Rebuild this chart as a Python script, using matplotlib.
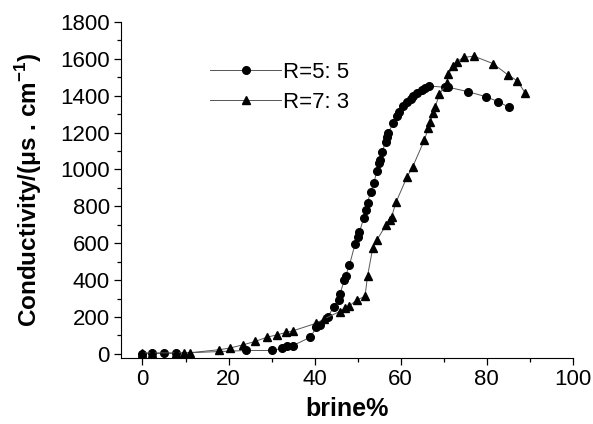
import matplotlib
matplotlib.use('Agg')
import matplotlib.pyplot as plt
from matplotlib.ticker import MultipleLocator

# R=5:5 series (circles)
brine_55 = [0, 2.3, 4.9, 7.8, 24.1, 30.1, 32.5, 33.6, 35.0, 39.0, 40.4, 41.3, 43.1,
            44.4, 45.6, 45.9, 46.9, 47.2, 48.1, 49.4, 50.0, 50.4, 51.4, 51.9, 52.3,
            53.0, 53.8, 54.4, 54.9, 55.2, 55.7, 56.5, 56.9, 57.1, 58.3, 59.2, 59.7,
            60.6, 61.4, 62.3, 62.9, 63.7, 64.9, 65.7, 66.6, 70.3, 71.1, 75.7, 79.8,
            82.7, 85.2]
cond_55 = [0, 2, 2, 3, 18, 18, 30, 40, 45, 90, 143, 157, 199,
           256, 293, 325, 401, 423, 482, 596, 636, 660, 735, 780, 820,
           880, 925, 993, 1034, 1051, 1096, 1151, 1178, 1199, 1253, 1290, 1313,
           1344, 1368, 1384, 1398, 1413, 1431, 1440, 1453, 1446, 1446, 1422, 1395,
           1368, 1337]

# R=7:3 series (triangles)
brine_73 = [0, 2.3, 7.8, 9.6, 11.1, 17.7, 20.3, 23.4, 26.2, 28.9, 31.3, 33.4, 35.0,
            40.4, 42.1, 45.8, 47.1, 48.1, 49.8, 51.7, 52.3, 53.5, 54.4, 56.6, 57.4,
            57.9, 58.9, 61.5, 62.8, 65.5, 66.4, 66.8, 67.6, 68.0, 69.0, 70.7, 71.1,
            72.2, 73.0, 74.6, 77.0, 81.4, 85.0, 87.1, 88.9]
cond_73 = [5, 5, 5, 6, 6, 22, 31, 49, 67, 90, 103, 116, 125,
           166, 188, 229, 247, 260, 293, 311, 423, 573, 615, 699, 726,
           744, 822, 961, 1015, 1160, 1223, 1259, 1304, 1340, 1407, 1470, 1518,
           1561, 1584, 1608, 1615, 1575, 1512, 1481, 1416]

plt.rcParams['font.family'] = ['Liberation Sans', 'DejaVu Sans']
plt.rcParams['mathtext.fontset'] = 'custom'
plt.rcParams['mathtext.rm'] = 'Liberation Sans'
plt.rcParams['mathtext.bf'] = 'Liberation Sans:bold'

fig = plt.figure(figsize=(5.93, 4.24), dpi=100)
ax = fig.add_axes([0.204, 0.156, 0.762, 0.792])

ax.plot(brine_55, cond_55, color='#555555', lw=0.7, marker='o', ms=5.5,
        mfc='black', mec='black', label='R=5: 5')
ax.plot(brine_73, cond_73, color='#555555', lw=0.7, marker='^', ms=6,
        mfc='black', mec='black', label='R=7: 3')

ax.set_xlim(-5, 100)
ax.set_ylim(-22, 1800)
ax.spines['top'].set_visible(False)
ax.spines['right'].set_visible(False)
ax.spines['left'].set_bounds(-22, 1800)
ax.xaxis.set_major_locator(MultipleLocator(20))
ax.xaxis.set_minor_locator(MultipleLocator(10))
ax.yaxis.set_major_locator(MultipleLocator(200))
ax.yaxis.set_minor_locator(MultipleLocator(100))
ax.tick_params(which='major', direction='out', length=5, width=0.9, labelsize=16,
               pad=3)
ax.tick_params(which='minor', direction='out', length=3, width=0.9)

ax.set_xlabel('brine%', fontsize=18, fontweight='bold', labelpad=5)
ax.set_ylabel(r'Conductivity/(μs . cm$^{\mathbf{-1}}$)', fontsize=17.5,
              fontweight='bold', labelpad=12)

ax.legend(loc='upper left', bbox_to_anchor=(0.153, 0.94), frameon=False,
          fontsize=16, handlelength=3.2, handletextpad=0.1, labelspacing=0.4)

fig.savefig('out.png', dpi=100)
